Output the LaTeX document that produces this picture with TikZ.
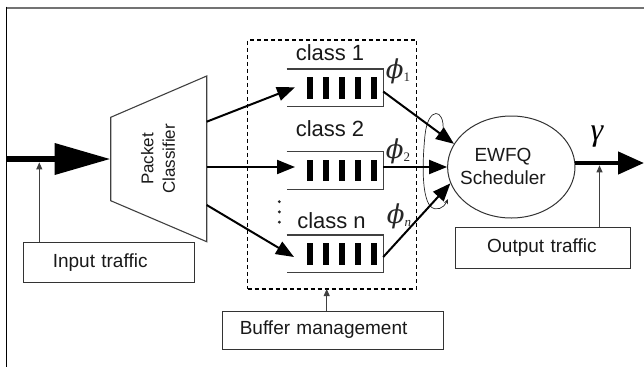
\documentclass[tikz,border=0pt]{standalone}
\usepackage{fontspec}
\setmainfont{Liberation Sans}
\newfontfamily\gserif{DejaVu Serif}
\newfontfamily\tserif{Liberation Serif}
\usetikzlibrary{arrows.meta,shapes.geometric}
\newcommand{\phisym}[1]{{\gserif\itshape\fontsize{26}{28}\selectfont ϕ}\raisebox{-3pt}{\tserif\fontsize{13}{14}\selectfont #1}}
\begin{document}
\begin{tikzpicture}[x=1pt,y=-1pt,
  tbox/.style={draw=black!80, line width=1pt, inner ysep=0pt, align=left,
    font=\fontsize{19}{22}\selectfont, text=black!90},
  thinarrow/.style={line width=2pt, -{Triangle[length=18pt,width=14pt]}},
  uparrow/.style={draw=black!75, line width=0.9pt, -{Triangle[length=7pt,width=6pt]}},
  qline/.style={draw=black!75, line width=1.1pt},
  qbox/.style={minimum width=96.5pt, minimum height=37.5pt, inner sep=0pt, anchor=north west},
  clab/.style={font=\fontsize{22}{24}\selectfont, text=black!90},
  phil/.style={inner sep=0pt, text=black!85},
]
\useasboundingbox (0,0) rectangle (644,367);
% frame
\draw[black!55, line width=2pt] (6,7.5) -- (644,7.5);
\draw[black, line width=1pt] (6,6.5) -- (6,367);

% boxes with labels
\node[tbox, text width=111.4pt, inner xsep=29.8pt, minimum height=40.7pt, anchor=west] (inp) at (22.5,262.6) {Input traffic};
\node[tbox, text width=186.4pt, inner xsep=17.3pt, minimum height=38pt, anchor=west] (buf) at (222,330) {Buffer management};
\node[tbox, text width=111.1pt, inner xsep=32.2pt, minimum height=40.5pt, anchor=west] (out) at (454.5,248) {Output traffic};

% packet classifier
\draw[qline] (110.7,117.3) -- (206.7,76) -- (206.7,241.7) -- (110.7,200.7) -- cycle;
\node[rotate=90, align=center, font=\fontsize{17}{21.6}\selectfont, text=black!90] (pc) at (158,159) {Packet\\Classifier};
\coordinate (pcin) at (110.7,159);
\coordinate (pc1) at (206.7,121.7);
\coordinate (pc2) at (206.7,167);
\coordinate (pc3) at (206.7,205);
\coordinate (instart) at (6,159);
\coordinate (intip) at (39.3,162.4);

% dashed buffer management area
\node[draw, line width=1.6pt, dash pattern=on 4pt off 3pt, minimum width=169pt, minimum height=249pt, inner sep=0pt, anchor=north west] (bm) at (246.7,39) {};
\coordinate (buftip) at (326.7,289);

% queues
\foreach \n/\t in {q1/69, q2/151.7, q3/235}{
  \node[qbox] (\n) at (286.7,\t) {};
  \draw[qline] (\n.north west) -- (\n.north east) -- (\n.south east) -- (\n.south west);
  \foreach \x in {310,326,342,358,374}{
    \fill[black] (\x-2.6,\t+8) rectangle (\x+2.6,\t+29.5);
  }
}
\coordinate (q1in) at (295,87.3);
\coordinate (q2in) at (295,167);
\coordinate (q3in) at (294,257);
\coordinate (q1out) at (383.2,91.5);
\coordinate (q2out) at (383.2,167);
\coordinate (q3out) at (383.2,257);

% class labels
\node[clab] (c1) at (330,53) {class 1};
\node[clab] (c2) at (330,129) {class 2};
\node[clab] (c3) at (331.5,220.5) {class n};
\foreach \y in {201.7,211.9,222.1}{ \fill[black!85] (279.3,\y) circle (1.6pt); }

% phi labels
\node[phil] (p1) at (398,71) {\phisym{1}};
\node[phil] (p2) at (398,151) {\phisym{2}};
\node[phil] (p3) at (399,216) {\phisym{\itshape n}};

% scheduler
\node[ellipse, draw=black!80, line width=1pt, minimum width=127.4pt, minimum height=102pt, inner sep=0pt] (sch) at (511.3,167) {};
\node[align=center, font=\fontsize{19}{23}\selectfont, text=black!90] (schtxt) at (503,166) {EWFQ\\Scheduler};
\coordinate (oe) at (575,163);
\coordinate (oend) at (644,163);
\coordinate (outtip) at (599.5,165.3);
\node[font=\tserif\itshape\fontsize{32}{34}\selectfont, inner sep=0pt] (gam) at (597,137) {γ};

% loop around incoming arrows
\coordinate (lp1) at (443,131);
\coordinate (lp2) at (448,199);
\draw[black!85, line width=0.7pt, -{Stealth[length=5pt,width=4pt]}] (lp1) .. controls (445,108) and (428,106) .. (425,135)
  .. controls (422,165) and (422,195) .. (430,206) .. controls (436,212) and (444,208) .. (lp2);

% connectors
\draw[line width=6.7pt, -{Triangle[length=56pt,width=30pt]}] (instart) -- (pcin);
\draw[uparrow] (inp.north -| intip) -- (intip);
\draw[thinarrow] (pc1) -- (q1in);
\draw[thinarrow] (pc2) -- (q2in);
\draw[thinarrow] (pc3) -- (q3in);
\draw[thinarrow] (q1out) -- (sch.158);
\draw[thinarrow] (q2out) -- (sch.180);
\draw[thinarrow] (q3out) -- (sch.195);
\draw[line width=4.5pt, -{Triangle[length=26pt,width=22pt]}] (oe) -- (oend);
\draw[uparrow] (out.north -| outtip) -- (outtip);
\draw[uparrow] (buf.north -| buftip) -- (buftip);
\end{tikzpicture}
\end{document}
